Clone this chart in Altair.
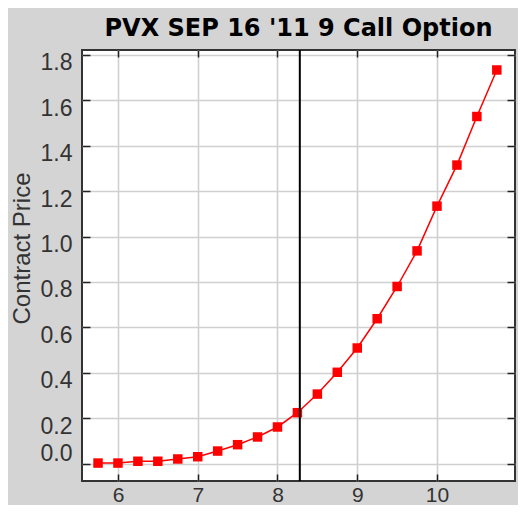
import altair as alt
import pandas as pd

# Underlying price and option contract price
underlying = [5.75, 6.0, 6.25, 6.5, 6.75, 7.0, 7.25, 7.5, 7.75, 8.0, 8.25,
              8.5, 8.75, 9.0, 9.25, 9.5, 9.75, 10.0, 10.25, 10.5, 10.75]
contract_price = [0.002, 0.002, 0.010, 0.010, 0.020, 0.030, 0.055, 0.083, 0.117, 0.161, 0.224,
                  0.306, 0.402, 0.509, 0.638, 0.780, 0.937, 1.134, 1.315, 1.529, 1.734]
current_price = [8.28]
x_ticks = [6, 7, 8, 9, 10]
y_ticks = [0.0, 0.2, 0.4, 0.6, 0.8, 1.0, 1.2, 1.4, 1.6, 1.8]

df = pd.DataFrame({"u": underlying, "p": contract_price})
cur = pd.DataFrame({"u": current_price})

xscale = alt.Scale(domain=[5.549, 10.978], nice=False, zero=False)
yscale = alt.Scale(domain=[-0.077, 1.822], nice=False, zero=False)

LBL = "Liberation Sans"

x_bottom = alt.Axis(values=x_ticks, orient="bottom", offset=-7, tickSize=7, domain=False,
                    labelPadding=3, labelFont=LBL, labelFontSize=21, labelColor="#333333",
                    tickColor="#222222", tickWidth=1.5, grid=True, gridColor="#d0d0d0",
                    gridWidth=1.6, title=None, format="d")
y_left = alt.Axis(values=y_ticks, orient="left", offset=-8, tickSize=8, domain=False,
                  labelPadding=10, labelFont=LBL, labelFontSize=23, labelColor="#333333",
                  labelOffset={"condition": {"test": "datum.value === 0", "value": -10}, "value": 8},
                  tickColor="#222222", tickWidth=1.5, grid=True, gridColor="#d0d0d0",
                  gridWidth=1.6, format=".1f", title="Contract Price", titleFont=LBL,
                  titleFontSize=24, titleFontWeight="normal", titleColor="#333333",
                  titleAngle=270, titleAlign="center", titleBaseline="middle",
                  titleX=-68, titleY=198)
x_top = alt.Axis(values=x_ticks, orient="top", offset=-7, tickSize=7, domain=False,
                 labels=False, grid=False, tickColor="#222222", tickWidth=1.5, title=None)
y_right = alt.Axis(values=y_ticks, orient="right", offset=-8, tickSize=8, domain=False,
                   labels=False, grid=False, tickColor="#222222", tickWidth=1.5, title=None)

line = alt.Chart(df).mark_line(color="#ff0000", strokeWidth=1.5).encode(
    x=alt.X("u:Q", scale=xscale, axis=x_bottom),
    y=alt.Y("p:Q", scale=yscale, axis=y_left),
)
squares = alt.Chart(df).mark_square(color="#ff0000", size=90, opacity=1).encode(
    x=alt.X("u:Q", scale=xscale, axis=x_top),
    y=alt.Y("p:Q", scale=yscale, axis=y_right),
)
rule = alt.Chart(cur).mark_rule(color="#000000", strokeWidth=2).encode(
    x=alt.X("u:Q", scale=xscale, axis=None),
)

chart = alt.layer(line, squares, rule).resolve_axis(
    x="independent", y="independent"
).properties(
    width=433,
    height=431,
    padding={"left": 74, "top": 42, "right": 3, "bottom": 24},
    autosize=alt.AutoSizeParams(type="none"),
    background="#d4d4d4",
    title=alt.TitleParams(
        text="PVX SEP 16 '11 9 Call Option",
        font="DejaVu Sans", fontSize=24, fontWeight="bold", color="#000000",
        anchor="middle", frame="group", baseline="alphabetic", offset=13, dy=24,
    ),
).configure_view(fill="white", stroke="#333333", strokeWidth=2)

chart.save("out.html", embed_options={"renderer": "svg", "actions": False})
